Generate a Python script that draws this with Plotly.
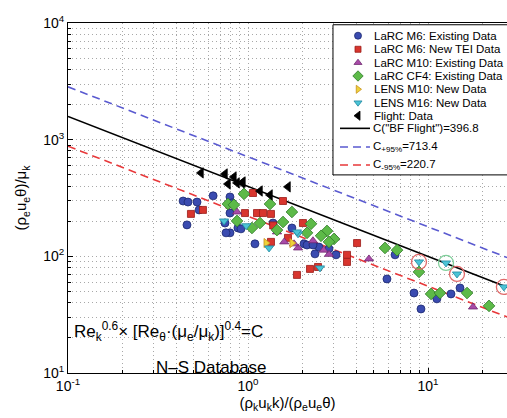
import plotly.graph_objects as go

# ---------------- data ----------------
# LaRC M6: Existing Data
m6e_x = [0.436, 0.464, 0.521, 0.535, 0.458, 0.640, 0.794, 0.815, 0.794, 0.745, 0.794, 0.755, 0.879, 0.914,
         1.093, 1.377, 1.754, 2.047, 2.479, 2.355, 2.818, 3.083, 2.128, 2.296, 6.561, 5.916, 8.36, 9.14,
         11.2, 13.42, 15.06]
m6e_y = [298, 292, 292, 250, 186, 330, 323, 287, 235, 193, 159, 159, 175, 172,
         128, 193, 175, 128, 120, 105, 116, 103, 125, 125, 103, 64, 48.5, 35.4,
         43.2, 47.6, 53.6]
# LaRC M6: New TEI Data
m6n_x = [0.482, 0.562, 1.066, 0.962, 1.122, 1.212, 1.342, 1.565, 1.342, 1.871, 2.21, 2.449, 2.02, 1.668,
         4.035, 3.548, 3.548, 1.38]
m6n_y = [231, 250, 349, 235, 235, 235, 231, 298, 133, 69.3, 78, 81, 193, 144,
         130, 103, 89.5, 184]
# LaRC M10: Existing Data
m10_x = [0.869, 1.449, 1.897, 2.296, 1.803, 3.041, 4.699, 17.78, 1.59, 2.818, 2.63]
m10_y = [240, 162, 118, 136, 128, 144, 95, 36.8, 133, 104, 113]
# LaRC CF4: Existing Data
cf4_x = [0.950, 0.774, 0.835, 1.325, 1.754, 0.869, 1.052, 1.166, 1.565, 2.128, 2.239, 2.748, 3.006,
         2.547, 2.818, 1.449, 5.768, 6.73, 8.91, 10.4, 11.66, 16.48, 21.83]
cf4_y = [343, 281, 276, 281, 240, 201, 175, 193, 197, 159, 190, 165, 141,
         150, 133, 168, 118, 113, 73.5, 47.6, 48.5, 48.5, 37.6]
# LENS M10: New Data
l10_x = [1.259, 1.754]
l10_y = [130, 130]
# LENS M16: New Data
l16_x = [0.736, 1.309, 1.897, 2.512, 0.978, 1.871, 8.91, 12.59, 14.49, 26.4]
l16_y = [201, 118, 156, 79.6, 183, 162, 89.5, 87.8, 70.6, 54.7]
circled_red_idx = [6, 8, 9]
circled_green_idx = [7]
# Flight: Data
fl_x = [0.548, 0.745, 0.835, 0.774, 0.869, 0.926, 0.937, 1.166, 1.325, 1.668]
fl_y = [519, 508, 479, 417, 426, 426, 434, 363, 336, 394]

# correlation constants: y = C * x^-0.6
C_fit = [396.8, 713.4, 220.7]
C_names = ['C("BF Flight")', 'C<sub>+95%</sub>', 'C<sub>-95%</sub>']
line_x = [0.1, 100]

x_ticks = [0.1, 1, 10]
x_tick_labels = ['10<sup>-1</sup>', '10<sup>0</sup>', '10<sup>1</sup>']
y_ticks = [10, 100, 1000, 10000]
y_tick_labels = ['10<sup>1</sup>', '10<sup>2</sup>', '10<sup>3</sup>', '10<sup>4</sup>']

# ---------------- styling ----------------
FONT = "Liberation Sans, Arial, Helvetica, sans-serif"
series = [
    dict(name="LaRC M6: Existing Data", x=m6e_x, y=m6e_y, symbol="circle", size=8,
         color="#3a4bb0", edge="#1c2870"),
    dict(name="LaRC M6: New TEI Data", x=m6n_x, y=m6n_y, symbol="square", size=7,
         color="#d8352e", edge="#9a1c18"),
    dict(name="LaRC M10: Existing Data", x=m10_x, y=m10_y, symbol="triangle-up", size=8,
         color="#a84aa8", edge="#702a70"),
    dict(name="LaRC CF4: Existing Data", x=cf4_x, y=cf4_y, symbol="diamond", size=9,
         color="#5dba48", edge="#2f7a28"),
    dict(name="LENS M10: New Data", x=l10_x, y=l10_y, symbol="triangle-right", size=8,
         color="#eed23a", edge="#c8901c"),
    dict(name="LENS M16: New Data", x=l16_x, y=l16_y, symbol="triangle-down", size=8,
         color="#4cc4d6", edge="#2088a0"),
    dict(name="Flight: Data", x=fl_x, y=fl_y, symbol="triangle-left", size=9,
         color="#000000", edge="#000000"),
]
line_styles = [dict(color="#000000", dash="solid", width=1.6),
               dict(color="#5a5ad0", dash="8px,5px", width=1.6),
               dict(color="#e8383a", dash="8px,5px", width=1.6)]

fig = go.Figure()

# fit lines
for C, st in zip(C_fit, line_styles):
    fig.add_trace(go.Scatter(x=line_x, y=[C * xv ** -0.6 for xv in line_x], mode="lines",
                             line=dict(color=st["color"], dash=st["dash"], width=st["width"]),
                             showlegend=False, hoverinfo="skip"))

# data series
for s in series:
    fig.add_trace(go.Scatter(x=s["x"], y=s["y"], mode="markers", name=s["name"], showlegend=False,
                             marker=dict(symbol=s["symbol"], size=s["size"], color=s["color"],
                                         line=dict(color=s["edge"], width=0.8))))

# highlighted LENS M16 points
fig.add_trace(go.Scatter(x=[l16_x[i] for i in circled_red_idx], y=[l16_y[i] for i in circled_red_idx],
                         mode="markers", showlegend=False,
                         marker=dict(symbol="circle-open", size=15, color="#e06a6a", line=dict(width=1.3))))
fig.add_trace(go.Scatter(x=[l16_x[i] for i in circled_green_idx], y=[l16_y[i] for i in circled_green_idx],
                         mode="markers", showlegend=False,
                         marker=dict(symbol="circle-open", size=15, color="#7fcf9a", line=dict(width=1.3))))

# ---------------- hand-made legend (overlay axes in 0..1 plot units) ----------------
lx0, lx1, ly0, ly1 = 0.6036, 1.05, 0.566, 0.995
fig.add_trace(go.Scatter(x=[lx0, lx1, lx1, lx0, lx0], y=[ly0, ly0, ly1, ly1, ly0], xaxis="x2", yaxis="y2",
                         mode="lines", fill="toself", fillcolor="white",
                         line=dict(color="black", width=1), showlegend=False, hoverinfo="skip"))
row_y = [0.9637, 0.9249, 0.8866, 0.8486, 0.8106, 0.7723, 0.7351]
line_row_y = [0.699, 0.6457, 0.5943]
mk_x, txt_x = 0.6606, 0.6925
LFS = 11.5
annotations = []
for s, ry in zip(series, row_y):
    fig.add_trace(go.Scatter(x=[mk_x], y=[ry], xaxis="x2", yaxis="y2", mode="markers", showlegend=False,
                             hoverinfo="skip",
                             marker=dict(symbol=s["symbol"], size=s["size"] - 1, color=s["color"],
                                         line=dict(color=s["edge"], width=0.8))))
    annotations.append(dict(x=txt_x, y=ry, xref="x2", yref="y2", text=s["name"], showarrow=False,
                            xanchor="left", yanchor="middle", font=dict(size=LFS, color="black", family=FONT)))
for C, nm, st, ry in zip(C_fit, C_names, line_styles, line_row_y):
    fig.add_trace(go.Scatter(x=[0.6196, 0.6879], y=[ry, ry], xaxis="x2", yaxis="y2", mode="lines",
                             showlegend=False, hoverinfo="skip",
                             line=dict(color=st["color"], dash=st["dash"], width=st["width"])))
    annotations.append(dict(x=0.690, y=ry, xref="x2", yref="y2", text=f"{nm}={C}", showarrow=False,
                            xanchor="left", yanchor="middle", font=dict(size=LFS, color="black", family=FONT)))

# in-plot texts
annotations.append(dict(x=0.009, y=0.12, xref="paper", yref="paper",
                        text="Re<sub>k</sub><sup>0.6</sup>× [Re<sub>θ</sub>·(μ<sub>e</sub>/μ<sub>k</sub>)]<sup>0.4</sup>=C",
                        showarrow=False, xanchor="left", yanchor="middle",
                        font=dict(size=17, color="black", family=FONT)))
annotations.append(dict(x=0.328, y=0.017, xref="paper", yref="paper", text="N–S Database",
                        showarrow=False, xanchor="center", yanchor="middle",
                        font=dict(size=17, color="black", family=FONT)))

minor_x = [m * 10.0 ** k for k in (-1, 0, 1) for m in range(2, 10)]
minor_y = [m * 10.0 ** k for k in (1, 2, 3) for m in range(2, 10)]
grid_c = "#a8a8a8"
grid_dash = "1px,3px"

fig.update_layout(
    width=507, height=418,
    margin=dict(l=68, r=0, t=23, b=45),
    paper_bgcolor="white", plot_bgcolor="white",
    font=dict(family=FONT, color="black"),
    showlegend=False,
    annotations=annotations,
    xaxis=dict(type="log", range=[-1, 1.4389], tickmode="array", tickvals=x_ticks, ticktext=x_tick_labels,
               ticks="inside", ticklen=5, tickcolor="black", showline=True, linecolor="black", linewidth=1,
               mirror=True, showgrid=True, gridcolor=grid_c, griddash=grid_dash, gridwidth=1,
               minor=dict(tickmode="array", tickvals=minor_x, ticks="inside", ticklen=3, tickcolor="black",
                          showgrid=True, gridcolor=grid_c, griddash=grid_dash, gridwidth=1),
               tickfont=dict(size=14), zeroline=False,
               title=dict(text="(ρ<sub>k</sub>u<sub>k</sub>k)/(ρ<sub>e</sub>u<sub>e</sub>θ)",
                          font=dict(size=15), standoff=2)),
    yaxis=dict(type="log", range=[1, 4], tickmode="array", tickvals=y_ticks, ticktext=y_tick_labels,
               ticks="inside", ticklen=5, tickcolor="black", showline=True, linecolor="black", linewidth=1,
               mirror=False, showgrid=True, gridcolor=grid_c, griddash=grid_dash, gridwidth=1,
               minor=dict(tickmode="array", tickvals=minor_y, ticks="inside", ticklen=3, tickcolor="black",
                          showgrid=True, gridcolor=grid_c, griddash=grid_dash, gridwidth=1),
               tickfont=dict(size=14), zeroline=False,
               title=dict(text="(ρ<sub>e</sub>u<sub>e</sub>θ)/μ<sub>k</sub>", font=dict(size=15), standoff=12)),
    xaxis2=dict(overlaying="x", range=[0, 1], visible=False, fixedrange=True),
    yaxis2=dict(overlaying="y", range=[0, 1], visible=False, fixedrange=True),
)

fig.write_html("out.html")
